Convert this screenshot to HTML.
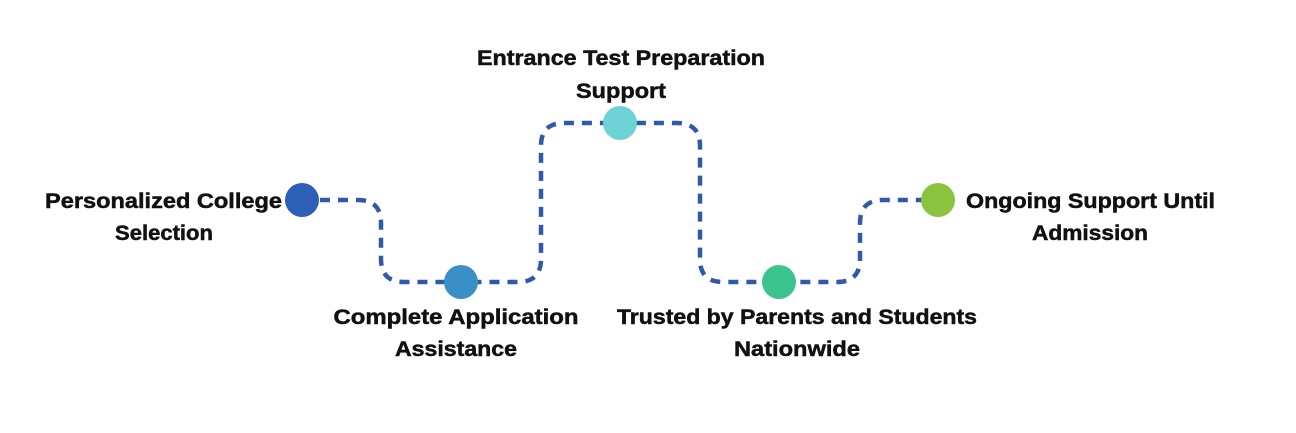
<!DOCTYPE html>
<html><head><meta charset="utf-8"><style>
html,body{margin:0;padding:0;background:#fff;}
svg{display:block;}
text{font-family:"Liberation Sans",sans-serif;font-weight:bold;font-size:21px;fill:#111;stroke:#111;stroke-width:0.5;}
</style></head><body>
<svg width="1296" height="433" viewBox="0 0 1296 433">
<path d="M320 200 H358 Q381 200 381 223 V259 Q381 282 404 282 H518 Q541 282 541 259 V146 Q541 123 564 123 H677 Q700 123 700 146 V259 Q700 282 723 282 H837 Q860 282 860 259 V223 Q860 200 883 200 H930" fill="none" stroke="#2f5aa8" stroke-width="4.5" stroke-dasharray="10 8"/>
<circle cx="302" cy="200" r="17" fill="#2e5fb8"/>
<circle cx="461" cy="282" r="17" fill="#3a8fc4"/>
<circle cx="620" cy="123" r="17" fill="#6dd3d6"/>
<circle cx="779" cy="282" r="17" fill="#3cc38e"/>
<circle cx="938" cy="200" r="17" fill="#8ac43f"/>
<text x="45" y="208" textLength="237" lengthAdjust="spacingAndGlyphs">Personalized College</text>
<text x="164" y="240" text-anchor="middle" textLength="98" lengthAdjust="spacingAndGlyphs">Selection</text>
<text x="456" y="324" text-anchor="middle" textLength="245" lengthAdjust="spacingAndGlyphs">Complete Application</text>
<text x="456" y="356" text-anchor="middle" textLength="122" lengthAdjust="spacingAndGlyphs">Assistance</text>
<text x="621" y="65" text-anchor="middle" textLength="288" lengthAdjust="spacingAndGlyphs">Entrance Test Preparation</text>
<text x="621" y="98" text-anchor="middle" textLength="90" lengthAdjust="spacingAndGlyphs">Support</text>
<text x="797" y="324" text-anchor="middle" textLength="360" lengthAdjust="spacingAndGlyphs">Trusted by Parents and Students</text>
<text x="797" y="356" text-anchor="middle" textLength="126" lengthAdjust="spacingAndGlyphs">Nationwide</text>
<text x="966" y="208" textLength="249" lengthAdjust="spacingAndGlyphs">Ongoing Support Until</text>
<text x="1090" y="240" text-anchor="middle" textLength="116" lengthAdjust="spacingAndGlyphs">Admission</text>
</svg>
</body></html>
